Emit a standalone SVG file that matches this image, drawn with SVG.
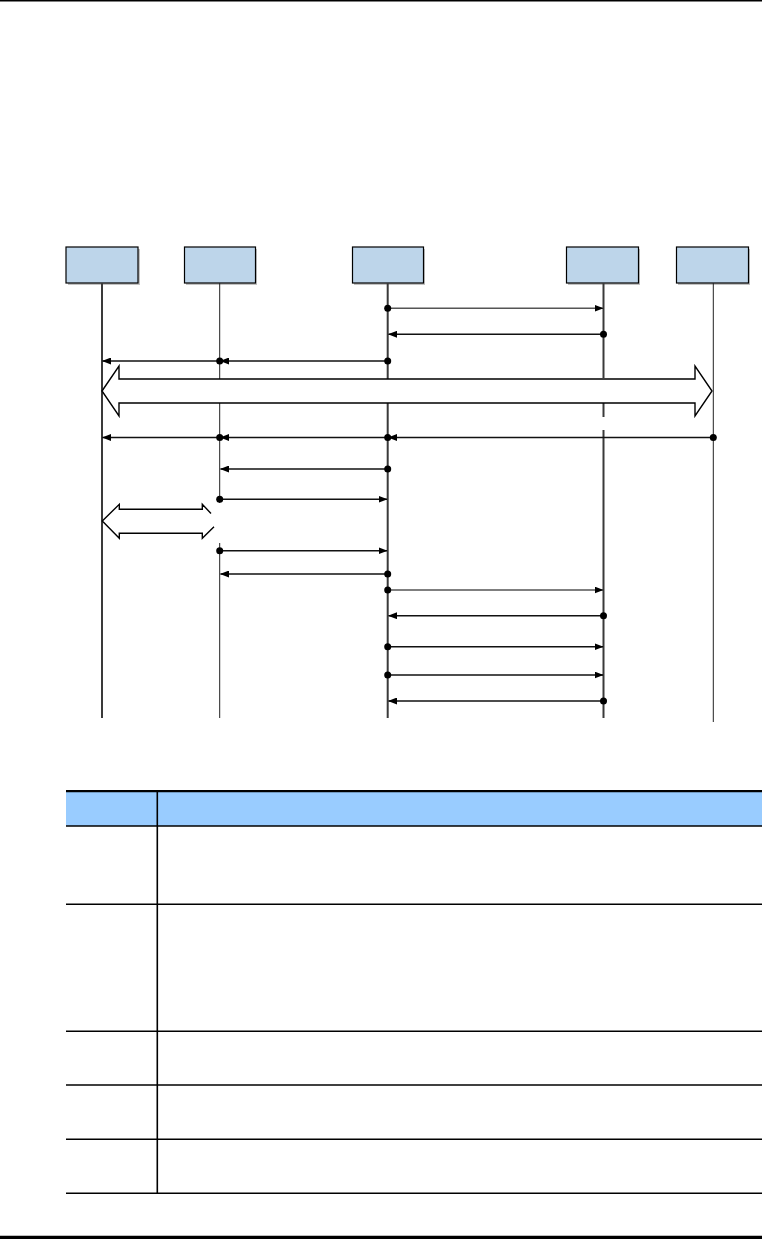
<svg xmlns="http://www.w3.org/2000/svg" width="762" height="1239" viewBox="0 0 762 1239">
<style>
.box{fill:#BDD5EA;stroke:#000;stroke-width:1.2}
.shadow{fill:#9a9a9a;opacity:0.6}
.life{stroke:#3a3a3a;stroke-width:2;fill:none}
.life-thin{stroke:#222;stroke-width:1;fill:none}
.msg{stroke:#111;stroke-width:1.4;fill:none;marker-end:url(#ah)}
.msg-g{stroke:#555;stroke-width:1.4;fill:none;marker-end:url(#ah)}
.dot{fill:#000}
.fat{fill:#fff;stroke:#000;stroke-width:1.4;stroke-linejoin:miter}
.rule{stroke:#000;stroke-width:1.6}
</style>
<defs>
<marker id="ah" markerWidth="9" markerHeight="7" refX="8.5" refY="3.5" orient="auto" markerUnits="userSpaceOnUse">
<path d="M0,0 L9,3.5 L0,7 z" fill="#000"/>
</marker>
</defs>
<rect width="762" height="1239" fill="#fff"/>
<!-- page rules -->
<line x1="0" y1="0.8" x2="762" y2="0.8" stroke="#000" stroke-width="1.6"/>
<line x1="0" y1="1237.4" x2="762" y2="1237.4" stroke="#000" stroke-width="3.4"/>

<!-- nodes -->
<g id="node1">
<rect class="shadow" x="68" y="249" width="72" height="36"/>
<rect class="box" x="66" y="247" width="72" height="36"/>
<line class="life" x1="102" y1="283" x2="102" y2="718"/>
</g>
<g id="node2">
<rect class="shadow" x="186" y="249" width="71" height="36"/>
<rect class="box" x="184.5" y="247" width="71" height="36"/>
<line class="life-thin" x1="219.7" y1="283" x2="219.7" y2="503"/>
<line class="life-thin" x1="219.7" y1="543" x2="219.7" y2="718"/>
</g>
<g id="node3">
<rect class="shadow" x="354" y="249" width="71" height="36"/>
<rect class="box" x="352.5" y="247" width="71" height="36"/>
<line class="life" x1="387.7" y1="283" x2="387.7" y2="718"/>
</g>
<g id="node4">
<rect class="shadow" x="568" y="249" width="72" height="36"/>
<rect class="box" x="566.5" y="247" width="72" height="36"/>
<line class="life" x1="603.5" y1="283" x2="603.5" y2="378"/>
<line class="life" x1="603.5" y1="403" x2="603.5" y2="417"/>
<line class="life" x1="603.5" y1="430" x2="603.5" y2="718"/>
</g>
<g id="node5">
<rect class="shadow" x="678" y="249" width="72" height="36"/>
<rect class="box" x="676.5" y="247" width="72" height="36"/>
<line class="life-thin" x1="713.3" y1="283" x2="713.3" y2="722"/>
</g>

<!-- connectors -->
<g id="connectors">
<line class="msg-g" x1="387.7" y1="308.3" x2="603" y2="308.3"/>
<circle class="dot" cx="387.7" cy="308.3" r="3.5"/>
<line class="msg" x1="603.5" y1="334.3" x2="388.5" y2="334.3"/>
<circle class="dot" cx="603.5" cy="334.3" r="3.5"/>

<line class="msg" x1="387.7" y1="361" x2="220.5" y2="361"/>
<line class="msg" x1="219.7" y1="361" x2="102.5" y2="361"/>
<circle class="dot" cx="387.7" cy="361" r="3.5"/>
<circle class="dot" cx="219.7" cy="361" r="3.5"/>

<path class="fat" d="M102,391 L119,366 L119,379 L695,379 L695,366 L712,391 L695,416 L695,403 L119,403 L119,416 Z"/>

<line class="msg" x1="713.3" y1="437.5" x2="388.5" y2="437.5"/>
<line class="msg" x1="387.7" y1="437.5" x2="220.5" y2="437.5"/>
<line class="msg" x1="219.7" y1="437.5" x2="102.5" y2="437.5"/>
<circle class="dot" cx="713.3" cy="437.5" r="3.5"/>
<circle class="dot" cx="387.7" cy="437.5" r="3.5"/>
<circle class="dot" cx="219.7" cy="437.5" r="3.5"/>

<line class="msg" x1="387.7" y1="469" x2="220.5" y2="469"/>
<circle class="dot" cx="387.7" cy="469" r="3.5"/>
<line class="msg" x1="219.7" y1="499.3" x2="387" y2="499.3"/>
<circle class="dot" cx="219.7" cy="499.3" r="3.5"/>

<path class="fat" d="M211,513.5 L202.3,504.3 L202.3,509.3 L119.3,509.3 L119.3,504.3 L102.3,521 L119.3,538.3 L119.3,533.3 L202.3,533.3 L202.3,538.3 L214,526.7"/>

<line class="msg" x1="219.7" y1="550.7" x2="387" y2="550.7"/>
<circle class="dot" cx="219.7" cy="550.7" r="3.5"/>
<line class="msg" x1="387.7" y1="574" x2="220.5" y2="574"/>
<circle class="dot" cx="387.7" cy="574" r="3.5"/>

<line class="msg-g" x1="387.7" y1="590" x2="603" y2="590"/>
<circle class="dot" cx="387.7" cy="590" r="3.5"/>
<line class="msg" x1="603.5" y1="615.7" x2="388.5" y2="615.7"/>
<circle class="dot" cx="603.5" cy="615.7" r="3.5"/>
<line class="msg" x1="387.7" y1="646.7" x2="603" y2="646.7"/>
<circle class="dot" cx="387.7" cy="646.7" r="3.5"/>
<line class="msg" x1="387.7" y1="675" x2="603" y2="675"/>
<circle class="dot" cx="387.7" cy="675" r="3.5"/>
<line class="msg" x1="603.5" y1="701" x2="388.5" y2="701"/>
<circle class="dot" cx="603.5" cy="701" r="3.5"/>
</g>

<!-- table -->
<g id="table">
<rect x="66" y="792" width="696" height="34" fill="#99CCFF"/>
<line x1="66" y1="791.2" x2="762" y2="791.2" stroke="#000" stroke-width="2.2"/>
<line class="rule" x1="66" y1="826" x2="762" y2="826"/>
<line class="rule" x1="66" y1="904.3" x2="762" y2="904.3"/>
<line class="rule" x1="66" y1="1031.3" x2="762" y2="1031.3"/>
<line class="rule" x1="66" y1="1085" x2="762" y2="1085"/>
<line class="rule" x1="66" y1="1139.3" x2="762" y2="1139.3"/>
<line class="rule" x1="66" y1="1193.3" x2="762" y2="1193.3"/>
<line class="rule" x1="157.3" y1="792" x2="157.3" y2="1193.3"/>
</g>
</svg>
